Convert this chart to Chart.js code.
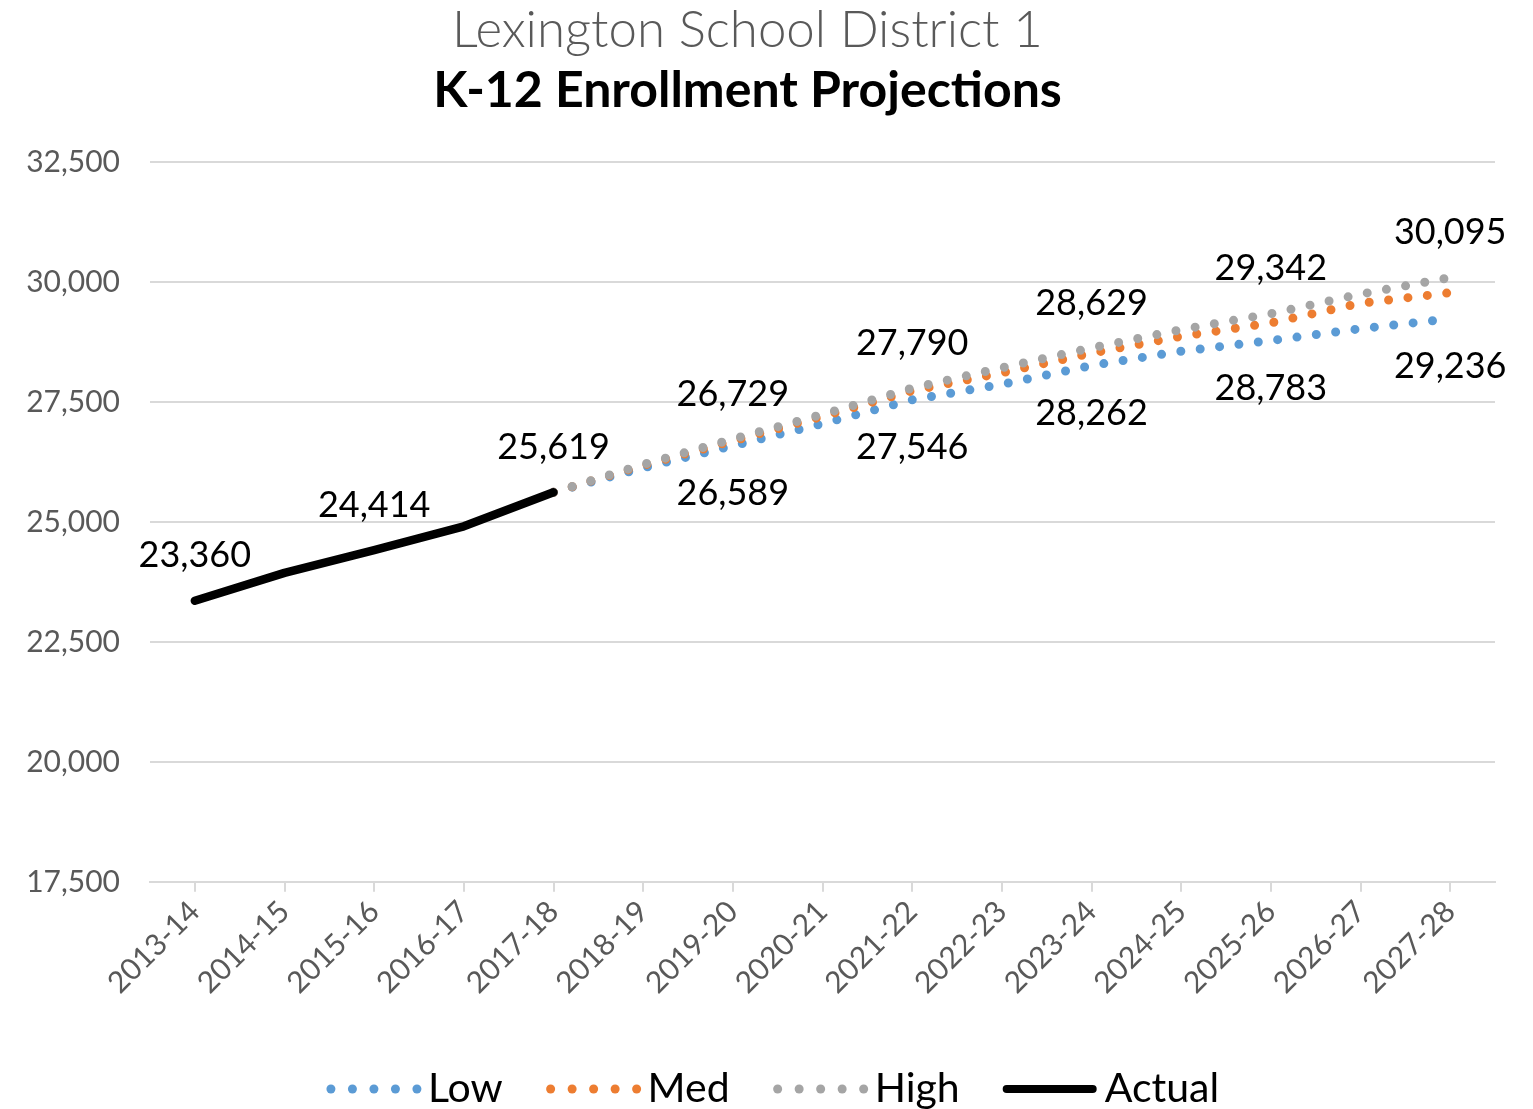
<!DOCTYPE html>
<html><head><meta charset="utf-8">
<script src="https://cdn.jsdelivr.net/npm/chart.js@4/dist/chart.umd.min.js"></script>
<style>html,body{margin:0;padding:0;background:#fff;}</style>
</head><body>
<canvas id="c" width="1533" height="1109"></canvas>
<script>
const categories = ['2013-14','2014-15','2015-16','2016-17','2017-18','2018-19','2019-20','2020-21','2021-22','2022-23','2023-24','2024-25','2025-26','2026-27','2027-28'];
const actual = [23360, 23940, 24414, 24910, 25619, null, null, null, null, null, null, null, null, null, null];
const low  = [null, null, null, null, 25619, 26130, 26589, 27050, 27546, 27870, 28262, 28560, 28783, 29030, 29236];
const med  = [null, null, null, null, 25619, 26180, 26690, 27200, 27735, 28110, 28520, 28870, 29150, 29560, 29780];
const high = [null, null, null, null, 25619, 26200, 26729, 27243, 27790, 28215, 28629, 29010, 29342, 29750, 30095];
const yMin = 17500, yMax = 32500, yStep = 2500;
const actualLabelIdx = [0, 2, 4];
const projLabelIdx = [6, 8, 10, 12, 14];

const FONT = 'Lato';
const BLUE = '#5B9BD5', ORANGE = '#ED7D31', GRAY = '#A5A5A5';
Chart.defaults.font.family = FONT;

const fmt = v => v.toLocaleString('en-US');

const valueLabels = {
  id: 'valueLabels',
  afterDatasetsDraw(chart) {
    const ctx = chart.ctx;
    ctx.save();
    ctx.font = '36px ' + FONT;
    ctx.fillStyle = '#000';
    ctx.textAlign = 'center';
    ctx.textBaseline = 'middle';
    chart.data.datasets.forEach((ds, i) => {
      const meta = chart.getDatasetMeta(i);
      (ds.labelIdx || []).forEach(j => {
        const el = meta.data[j];
        const y = ds.labelPos === 'below' ? el.y + 48 : el.y - 45;
        ctx.fillText(fmt(ds.data[j]), el.x, y);
      });
    });
    ctx.restore();
  }
};

const customLegend = {
  id: 'customLegend',
  afterDraw(chart) {
    const ctx = chart.ctx;
    ctx.save();
    ctx.font = '41px ' + FONT;
    ctx.textBaseline = 'middle';
    const markerW = 92, textGap = 10, itemGap = 43;
    const items = chart.data.datasets.map(ds => ({text: ds.label, color: ds.borderColor, dotted: !!ds.borderDash}));
    let total = 0;
    items.forEach((it, k) => { it.w = markerW + textGap + ctx.measureText(it.text).width; total += it.w + (k ? itemGap : 0); });
    let x = chart.width / 2 - total / 2 + 6;
    const y = 1089;
    items.forEach(it => {
      if (it.dotted) {
        ctx.fillStyle = it.color;
        for (let d = 0; d < 5; d++) {
          ctx.beginPath(); ctx.arc(x + 5 + d * 21.5, y, 4.5, 0, Math.PI * 2); ctx.fill();
        }
      } else {
        ctx.strokeStyle = it.color; ctx.lineWidth = 8; ctx.lineCap = 'round';
        ctx.beginPath(); ctx.moveTo(x + 4, y); ctx.lineTo(x + markerW - 2, y); ctx.stroke();
      }
      ctx.fillStyle = '#000';
      ctx.textAlign = 'left';
      ctx.fillText(it.text, x + markerW + textGap, y);
      x += it.w + itemGap;
    });
    ctx.restore();
  }
};

const dotted = (label, data, color, order, pos) => ({
  label, data, borderColor: color, backgroundColor: color,
  borderWidth: 9, borderDash: [0, 19.5], borderCapStyle: 'round',
  pointRadius: 0, tension: 0, spanGaps: false, order,
  labelIdx: pos ? projLabelIdx : [], labelPos: pos
});

new Chart(document.getElementById('c'), {
  type: 'line',
  data: {
    labels: categories,
    datasets: [
      dotted('Low', low, BLUE, 3, 'below'),
      dotted('Med', med, ORANGE, 2, null),
      dotted('High', high, GRAY, 1, 'above'),
      { label: 'Actual', data: actual, borderColor: '#000', backgroundColor: '#000', borderWidth: 8.5,
        borderCapStyle: 'round', borderJoinStyle: 'round', pointRadius: 0, tension: 0, order: 0,
        labelIdx: actualLabelIdx, labelPos: 'above' }
    ]
  },
  options: {
    responsive: false, animation: false,
    layout: { padding: { left: 0, right: 38, top: 0, bottom: 106 } },
    plugins: {
      legend: { display: false }, tooltip: { enabled: false },
      title: { display: true, text: 'Lexington School District 1', color: '#595959',
        font: { size: 51, weight: 300 }, padding: { top: 0, bottom: 0 } },
      subtitle: { display: true, text: 'K-12 Enrollment Projections', color: '#000',
        font: { size: 50, weight: 'bold' }, padding: { top: 0, bottom: 41 } }
    },
    scales: {
      x: {
        offset: true,
        grid: { offset: false, drawOnChartArea: false, drawTicks: true, tickLength: 10, color: '#d9d9d9', lineWidth: 2 },
        border: { display: true, color: '#d9d9d9', width: 2 },
        ticks: { minRotation: 45, maxRotation: 45, color: '#595959', font: { size: 30 }, padding: 2 }
      },
      y: {
        min: yMin, max: yMax,
        ticks: { stepSize: yStep, color: '#595959', font: { size: 30 }, padding: 30, callback: v => fmt(v) },
        grid: { color: '#d9d9d9', lineWidth: 2, drawTicks: false },
        border: { display: false },
        afterFit(s) { s.width = 150; }
      }
    }
  },
  plugins: [valueLabels, customLegend]
});
</script>
</body></html>
